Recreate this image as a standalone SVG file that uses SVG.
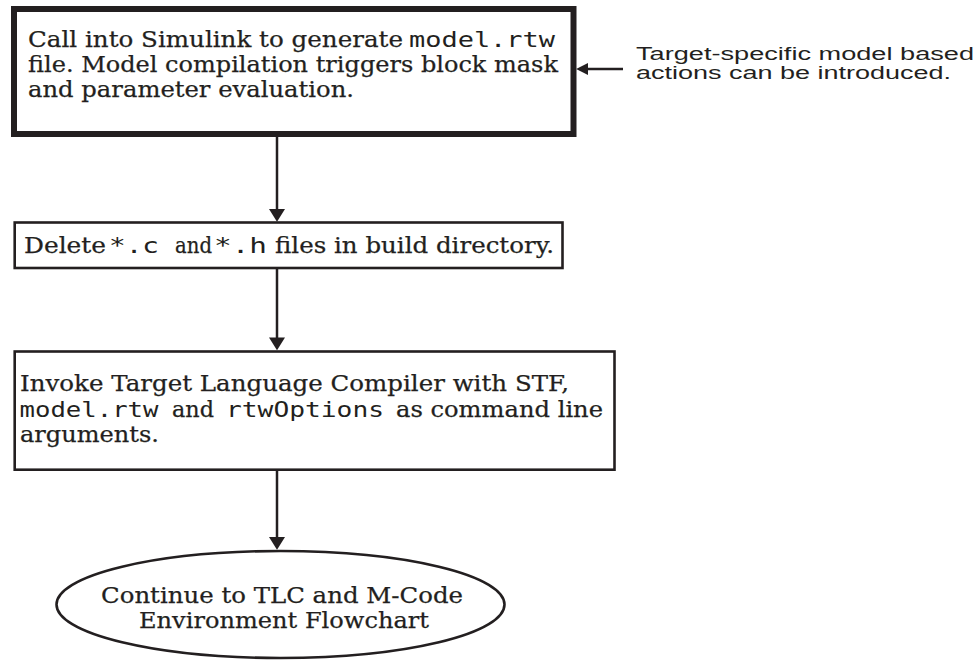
<svg xmlns="http://www.w3.org/2000/svg" width="978" height="661" viewBox="0 0 978 661">
<style>
  .bg { fill: #ffffff; }
  .box { fill: #ffffff; stroke: #231f20; stroke-width: 2.6; }
  .box-thick { fill: #ffffff; stroke: #231f20; stroke-width: 6; }
  .conn { fill: none; stroke: #231f20; stroke-width: 2.5; }
  .serif { font-family: "DejaVu Serif", "Liberation Serif", serif; font-size: 22.5px; fill: #231f20; stroke: #231f20; stroke-width: 0.25; }
  .mono { font-family: "DejaVu Sans Mono", "Liberation Mono", monospace; font-size: 22px; fill: #231f20; }
  .sans { font-family: "Liberation Sans", Arial, sans-serif; font-size: 17.5px; fill: #231f20; }
</style>
<defs>
  <marker id="arrow" markerUnits="userSpaceOnUse" markerWidth="14" markerHeight="16" viewBox="0 0 12 15" refX="8" refY="7.5" orient="auto">
    <path d="M0,0 L12,7.5 L0,15 Z" fill="#231f20"/>
  </marker>
  <marker id="arrowSmall" markerUnits="userSpaceOnUse" markerWidth="12" markerHeight="12" viewBox="0 0 11 11" refX="7" refY="5.5" orient="auto">
    <path d="M0,0 L11,5.5 L0,11 Z" fill="#231f20"/>
  </marker>
</defs>
<rect class="bg" x="0" y="0" width="978" height="661"/>

<g id="connectors">
  <path class="conn" d="M277,137 L277,217.5" marker-end="url(#arrow)"/>
  <path class="conn" d="M277,269 L277,346" marker-end="url(#arrow)"/>
  <path class="conn" d="M277,471 L277,545.5" marker-end="url(#arrow)"/>
  <path class="conn" d="M623,69 L580.5,69" marker-end="url(#arrowSmall)"/>
</g>

<g id="node-simulink">
  <rect class="box-thick" x="14" y="9" width="559.5" height="125"/>
  <text class="serif" x="28" y="46.5" textLength="375" lengthAdjust="spacingAndGlyphs">Call into Simulink to generate</text>
  <text class="mono" x="409" y="46.5" textLength="146" lengthAdjust="spacingAndGlyphs">model.rtw</text>
  <text class="serif" x="28" y="71.5" textLength="530" lengthAdjust="spacingAndGlyphs">file. Model compilation triggers block mask</text>
  <text class="serif" x="28" y="96.5" textLength="326" lengthAdjust="spacingAndGlyphs">and parameter evaluation.</text>
</g>

<g id="node-note">
  <text class="sans" x="636" y="59.5" textLength="338" lengthAdjust="spacingAndGlyphs">Target-specific model based</text>
  <text class="sans" x="636" y="79" textLength="315" lengthAdjust="spacingAndGlyphs">actions can be introduced.</text>
</g>

<g id="node-delete">
  <rect class="box" x="14.7" y="222.5" width="547.8" height="45.5"/>
  <text class="serif" x="24" y="253" textLength="82" lengthAdjust="spacingAndGlyphs">Delete</text>
  <text class="mono" x="109" y="253" textLength="50" lengthAdjust="spacingAndGlyphs">*.c</text>
  <text class="serif" x="175" y="253" textLength="37" lengthAdjust="spacingAndGlyphs">and</text>
  <text class="mono" x="214" y="253" textLength="53" lengthAdjust="spacingAndGlyphs">*.h</text>
  <text class="serif" x="275" y="253" textLength="279" lengthAdjust="spacingAndGlyphs">files in build directory.</text>
</g>

<g id="node-tlc">
  <rect class="box" x="14.7" y="351.5" width="599.8" height="118.2"/>
  <text class="serif" x="20" y="390.7" textLength="549" lengthAdjust="spacingAndGlyphs">Invoke Target Language Compiler with STF,</text>
  <text class="mono" x="19.5" y="416.7" textLength="139" lengthAdjust="spacingAndGlyphs">model.rtw</text>
  <text class="serif" x="172" y="416.7" textLength="42" lengthAdjust="spacingAndGlyphs">and</text>
  <text class="mono" x="226" y="416.7" textLength="158" lengthAdjust="spacingAndGlyphs">rtwOptions</text>
  <text class="serif" x="396" y="416.7" textLength="207" lengthAdjust="spacingAndGlyphs">as command line</text>
  <text class="serif" x="20" y="441.7" textLength="139" lengthAdjust="spacingAndGlyphs">arguments.</text>
</g>

<g id="node-continue">
  <ellipse class="box" cx="280.5" cy="604.5" rx="224" ry="53.5"/>
  <text class="serif" x="101" y="603" textLength="362" lengthAdjust="spacingAndGlyphs">Continue to TLC and M-Code</text>
  <text class="serif" x="139" y="628" textLength="290" lengthAdjust="spacingAndGlyphs">Environment Flowchart</text>
</g>
</svg>
